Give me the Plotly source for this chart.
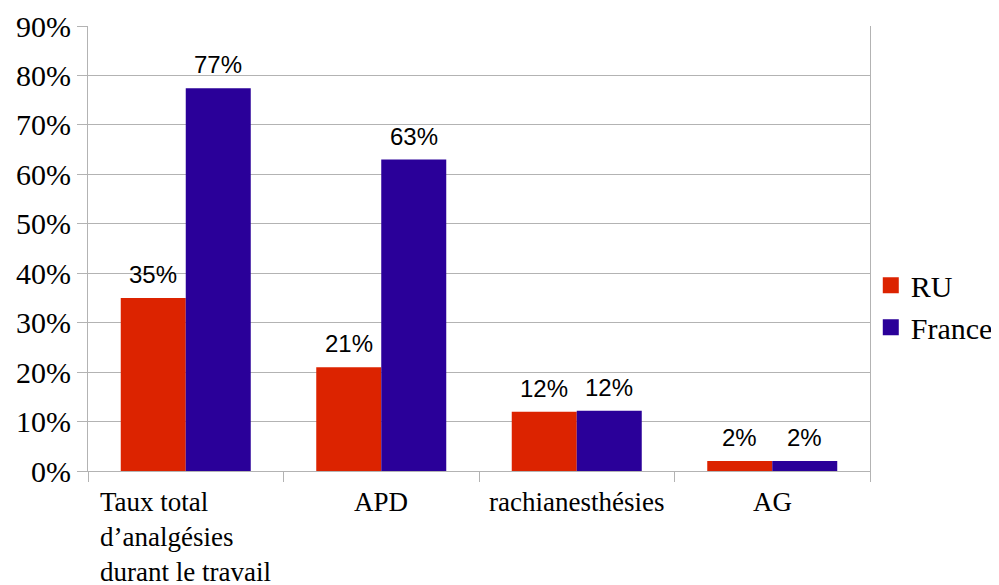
import plotly.graph_objects as go

# Données
categories = ["Taux total", "APD", "rachianesthésies", "AG"]
category_labels = ["Taux total<br>d’analgésies<br>durant le travail", "APD", "rachianesthésies", "AG"]
ru_values = [35, 21, 12, 2]
france_values = [77.4, 63, 12.2, 2]
ru_text = ["35%", "21%", "12%", "2%"]
france_text = ["77%", "63%", "12%", "2%"]
y_ticks = [0, 10, 20, 30, 40, 50, 60, 70, 80, 90]

RED = '#dc2300'
BLUE = '#2a0099'
GRID = '#b3b3b3'
SERIF = 'Liberation Serif'
SANS = 'Liberation Sans'

# la page html ajoute 8 px de marge au body : on compense dans les marges
W, H = 999, 585
L, R, T, B = 80, 137, 18, 122
BARGAP = 0.335
cat_px = (W - L - R) / len(categories)
bar_px = cat_px * (1 - BARGAP) / 2

fig = go.Figure()
fig.add_trace(go.Bar(
    x=categories, y=ru_values, name='RU', showlegend=False,
    marker=dict(color=RED, line=dict(width=0)),
))
fig.add_trace(go.Bar(
    x=categories, y=france_values, name='France', showlegend=False,
    marker=dict(color=BLUE, line=dict(width=0)),
))

# entrées de légende avec des carrés plus grands
for name, color in [('RU', RED), ('France', BLUE)]:
    fig.add_trace(go.Scatter(
        x=[None], y=[None], mode='markers', name=name,
        marker=dict(symbol='square', size=19, color=color),
    ))

# étiquettes de valeurs au-dessus des barres
for vals, texts, shift in [(ru_values, ru_text, -bar_px / 2), (france_values, france_text, bar_px / 2)]:
    for cat, v, t in zip(categories, vals, texts):
        fig.add_annotation(
            x=cat, y=v, xref='x', yref='y', xanchor='center', yanchor='bottom',
            xshift=shift, yshift=8, text=t, showarrow=False,
            font=dict(family=SANS, size=24, color='black'),
        )

# libellés de catégories (alignés à gauche pour le premier)
for cat, lab in zip(categories, category_labels):
    fig.add_annotation(
        x=cat, y=0, xref='x', yref='y', yanchor='top', xanchor='center',
        yshift=-14, text=lab, showarrow=False, align='left',
        font=dict(family=SERIF, size=27, color='black'),
    )

fig.update_layout(
    width=W, height=H,
    margin=dict(l=L, r=R, t=T, b=B, autoexpand=False),
    plot_bgcolor='white', paper_bgcolor='white',
    barmode='group', bargap=BARGAP, bargroupgap=0,
    legend=dict(
        x=1.001, y=0.37, xanchor='left', yanchor='middle',
        font=dict(family=SERIF, size=30, color='black'),
        itemsizing='trace', tracegroupgap=0,
        bgcolor='rgba(0,0,0,0)',
    ),
    xaxis=dict(
        type='category', showticklabels=False, tickson='boundaries',
        ticks='outside', ticklen=10, tickcolor=GRID,
        showline=True, linecolor=GRID, linewidth=1,
        showgrid=False, zeroline=False, automargin=False,
    ),
    yaxis=dict(
        range=[0, 90], tickvals=y_ticks,
        ticktext=[f"{v}%" for v in y_ticks],
        ticks='outside', ticklen=10, tickcolor=GRID,
        tickfont=dict(family=SERIF, size=30, color='black'),
        showgrid=True, gridcolor=GRID, gridwidth=1,
        showline=True, linecolor=GRID, mirror=True,
        zeroline=False, automargin=False,
    ),
)

fig.write_html("out.html")
